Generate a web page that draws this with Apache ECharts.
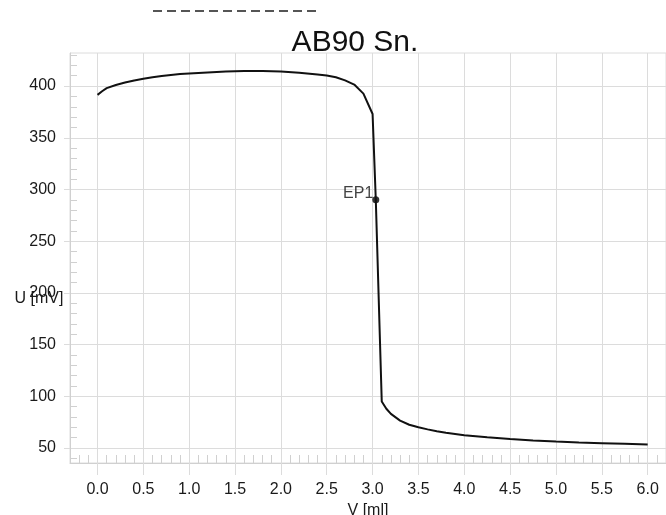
<!DOCTYPE html>
<html>
<head>
<meta charset="utf-8">
<title>AB90 Sn.</title>
<script src="https://cdn.jsdelivr.net/npm/echarts@6/dist/echarts.min.js"></script>
<style>
  html, body { margin: 0; padding: 0; background: #fff; }
  #chart { width: 666px; height: 515px; }
</style>
</head>
<body>
<div id="chart"></div>
<script>
// titration curve, volume in ml vs potential in mV
const volume = [0.00, 0.05, 0.10, 0.20, 0.30, 0.40, 0.50, 0.60, 0.70, 0.80, 0.90, 1.00,
  1.20, 1.40, 1.60, 1.80, 2.00, 2.20, 2.40, 2.50, 2.60, 2.70, 2.80, 2.90, 3.00, 3.035,
  3.10, 3.15, 3.20, 3.30, 3.40, 3.50, 3.60, 3.70, 3.80, 4.00, 4.25, 4.50, 4.75, 5.00,
  5.25, 5.50, 5.75, 6.00];
const potential = [391.5, 395, 398, 401, 403.5, 405.5, 407, 408.5, 409.8, 410.8, 411.6, 412.2,
  413.2, 414, 414.5, 414.5, 414.2, 413, 411.3, 410.3, 408.5, 405.5, 401.5, 392.7, 373, 290,
  95, 88, 83, 76.5, 72.5, 70, 68, 66.2, 64.8, 62.3, 60.3, 58.7, 57.3, 56.2,
  55.4, 54.7, 54, 53.3];

// end point marker
const epName = 'EP1';
const epVolume = 3.035;
const epPotential = 290;

// axis ticks
const xTicks = [0, 0.5, 1, 1.5, 2, 2.5, 3, 3.5, 4, 4.5, 5, 5.5, 6];
const xMinorTicks = [-0.2, -0.1, 0.1, 0.2, 0.3, 0.4, 0.6, 0.7, 0.8, 0.9, 1.1, 1.2, 1.3, 1.4,
  1.6, 1.7, 1.8, 1.9, 2.1, 2.2, 2.3, 2.4, 2.6, 2.7, 2.8, 2.9, 3.1, 3.2, 3.3, 3.4,
  3.6, 3.7, 3.8, 3.9, 4.1, 4.2, 4.3, 4.4, 4.6, 4.7, 4.8, 4.9, 5.1, 5.2, 5.3, 5.4,
  5.6, 5.7, 5.8, 5.9, 6.1];
const yTicks = [50, 100, 150, 200, 250, 300, 350, 400];
const yMinorTicks = [40, 60, 70, 80, 90, 110, 120, 130, 140, 160, 170, 180, 190,
  210, 220, 230, 240, 260, 270, 280, 290, 310, 320, 330, 340, 360, 370, 380, 390,
  410, 420, 430];

const xRange = [-0.3, 6.2];
const yRange = [35.5, 432];

const FONT = 'Liberation Sans';
const gridBox = { left: 70, right: 0, top: 53, bottom: 52, outerBoundsMode: 'none' };

const chart = echarts.init(document.getElementById('chart'), null, { renderer: 'canvas' });

const pairs = volume.map((v, i) => [v, potential[i]]);

chart.setOption({
  animation: false,
  backgroundColor: '#fff',
  textStyle: { fontFamily: FONT },
  grid: [
    Object.assign({ show: true, borderColor: '#dcdcdc', borderWidth: 1 }, gridBox),
    Object.assign({}, gridBox)
  ],
  xAxis: [
    {
      type: 'value', gridIndex: 0, min: xRange[0], max: xRange[1],
      name: 'V [ml]', nameLocation: 'middle', nameGap: 37,
      nameTextStyle: { fontSize: 16, color: '#1a1a1a', fontFamily: FONT },
      axisLine: { show: true, onZero: false, lineStyle: { color: '#d0d0d0' } },
      axisTick: { show: true, customValues: xTicks, length: 12, lineStyle: { color: '#dcdcdc' } },
      axisLabel: {
        customValues: xTicks, fontSize: 16, color: '#1a1a1a', margin: 19,
        formatter: v => v.toFixed(1)
      },
      splitLine: { show: true, lineStyle: { color: '#dcdcdc' } }
    },
    {
      type: 'value', gridIndex: 1, min: xRange[0], max: xRange[1],
      axisLine: { show: false, onZero: false },
      axisTick: { show: true, inside: true, customValues: xMinorTicks, length: 8, lineStyle: { color: '#d0d0d0' } },
      axisLabel: { show: false },
      splitLine: { show: false }
    }
  ],
  yAxis: [
    {
      type: 'value', gridIndex: 0, min: yRange[0], max: yRange[1],
      axisLine: { show: true, onZero: false, lineStyle: { color: '#d0d0d0' } },
      axisTick: { show: true, customValues: yTicks, length: 6, lineStyle: { color: '#dcdcdc' } },
      axisLabel: { customValues: yTicks, fontSize: 16, color: '#1a1a1a', margin: 14 },
      splitLine: { show: true, lineStyle: { color: '#dcdcdc' } }
    },
    {
      type: 'value', gridIndex: 1, min: yRange[0], max: yRange[1],
      axisLine: { show: false, onZero: false },
      axisTick: { show: true, inside: true, customValues: yMinorTicks, length: 7, lineStyle: { color: '#d0d0d0' } },
      axisLabel: { show: false },
      splitLine: { show: false }
    }
  ],
  graphic: [
    {
      type: 'text', x: 355, y: 43,
      style: { text: 'AB90 Sn.', font: '30px "Liberation Sans"', fill: '#111', align: 'center', verticalAlign: 'middle' }
    },
    {
      type: 'text', x: 39, y: 299,
      style: { text: 'U [mV]', font: '16px "Liberation Sans"', fill: '#1a1a1a', align: 'center', verticalAlign: 'middle' }
    },
    {
      // empty legend entry: dashed line only
      type: 'line',
      shape: { x1: 153, y1: 11, x2: 321, y2: 11 },
      style: { stroke: '#555', lineWidth: 2, lineDash: [9, 5] }
    }
  ],
  series: [
    {
      type: 'line', xAxisIndex: 0, yAxisIndex: 0,
      data: pairs, showSymbol: false, smooth: false,
      lineStyle: { color: '#111', width: 2 }
    },
    {
      type: 'scatter', xAxisIndex: 0, yAxisIndex: 0,
      data: [[epVolume, epPotential]], symbolSize: 7,
      itemStyle: { color: '#000' },
      label: {
        show: true, formatter: epName, position: 'left', distance: 0,
        offset: [1, -6], fontSize: 16, color: '#111'
      }
    }
  ]
});
</script>
</body>
</html>
